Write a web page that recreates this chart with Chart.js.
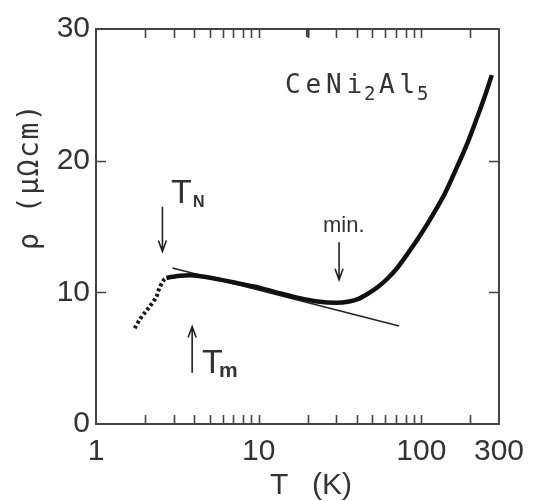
<!DOCTYPE html>
<html>
<head>
<meta charset="utf-8">
<script src="https://cdn.jsdelivr.net/npm/chart.js@4.4.1/dist/chart.umd.min.js"></script>
<style>
  html, body { margin: 0; padding: 0; background: #fff; }
</style>
</head>
<body>
<canvas id="rhoChart" width="534" height="501"></canvas>
<script>
// resistivity of CeNi2Al5 vs temperature (log T)
const lowT   = [1.73, 1.85, 1.99, 2.13, 2.35, 2.45, 2.6, 2.71];
const lowRho = [7.27, 7.9, 8.43, 8.89, 9.66, 10.3, 10.9, 11.1];

const curveT   = [2.71, 2.96, 3.3, 3.74, 4.5, 6.0, 7.5, 9.5, 13, 17.5, 23, 30, 36, 41, 47, 54, 62, 70, 82, 95, 109, 125, 140, 166, 190, 219, 245, 271];
const curveRho = [11.1, 11.18, 11.26, 11.3, 11.2, 10.93, 10.68, 10.43, 9.98, 9.58, 9.3, 9.2, 9.3, 9.5, 9.9, 10.4, 11.05, 11.75, 12.9, 14.05, 15.2, 16.45, 17.55, 19.55, 21.2, 23.2, 24.85, 26.5];

// -log T fit line
const fitT   = [2.95, 73];
const fitRho = [11.85, 7.44];

const yTicks     = [0, 10, 20, 30];
const xLabelled  = [1, 10, 100, 300];
const xTickMarks = [2, 3, 4, 5, 6, 7, 8, 9, 10, 20, 30, 40, 50, 60, 70, 80, 90, 100, 200];

const TN = 2.56, Tm = 3.9, Tmin = 31.2;

const pts = (xs, ys) => xs.map((v, i) => ({ x: v, y: ys[i] }));

const sans = '"Liberation Sans", Arial, sans-serif';
const mono = '"DejaVu Sans Mono", "Liberation Mono", monospace';
const ink = '#333';

function arrow(ctx, x, y1, y2) {
  // shaft from y1 to tip at y2
  const d = y2 > y1 ? 1 : -1;
  ctx.beginPath();
  ctx.moveTo(x, y1);
  ctx.lineTo(x, y2);
  ctx.moveTo(x - 4, y2 - d * 11);
  ctx.lineTo(x, y2);
  ctx.lineTo(x + 4, y2 - d * 11);
  ctx.stroke();
}

function spaced(ctx, str, x, y, pitch) {
  for (const ch of str) {
    ctx.fillText(ch, x, y);
    x += pitch;
  }
  return x;
}

const decor = {
  id: 'decor',
  afterDraw(chart) {
    const { ctx, chartArea: a, scales: { x, y } } = chart;
    ctx.save();

    // frame
    ctx.strokeStyle = '#444';
    ctx.lineWidth = 2;
    ctx.strokeRect(a.left, a.top, a.right - a.left, a.bottom - a.top);

    // inward ticks
    ctx.lineWidth = 1.6;
    ctx.beginPath();
    xTickMarks.forEach(v => {
      const px = Math.round(x.getPixelForValue(v)) + 0.5;
      ctx.moveTo(px, a.bottom); ctx.lineTo(px, a.bottom - 9);
      ctx.moveTo(px, a.top);    ctx.lineTo(px, a.top + 9);
    });
    yTicks.slice(1, -1).forEach(v => {
      const py = Math.round(y.getPixelForValue(v)) + 0.5;
      ctx.moveTo(a.left, py);  ctx.lineTo(a.left + 10, py);
      ctx.moveTo(a.right, py); ctx.lineTo(a.right - 10, py);
    });
    ctx.stroke();
    ctx.lineWidth = 3.5;
    ctx.beginPath();
    const p20 = x.getPixelForValue(20);
    ctx.moveTo(p20, a.top); ctx.lineTo(p20, a.top + 8);
    ctx.stroke();

    // axis titles
    ctx.fillStyle = ink;
    ctx.font = '30px ' + sans;
    ctx.textBaseline = 'alphabetic';
    ctx.textAlign = 'left';
    ctx.fillText('T', 270, 494);
    ctx.fillText('(K)', 312, 494);

    ctx.save();
    ctx.translate(38, 250);
    ctx.rotate(-Math.PI / 2);
    ctx.font = '28px ' + mono;
    spaced(ctx, 'ρ (μΩcm)', 0, 0, 18.4);
    ctx.restore();

    // compound name
    ctx.font = '26px ' + mono;
    let cx = 285;
    cx = spaced(ctx, 'CeNi', cx, 93, 20.5);
    ctx.font = '19px ' + mono;
    cx = spaced(ctx, '2', cx - 3, 100, 15);
    ctx.font = '26px ' + mono;
    cx = spaced(ctx, 'Al', cx, 93, 20.5);
    ctx.font = '19px ' + mono;
    spaced(ctx, '5', cx - 3, 100, 15);

    // arrows
    ctx.strokeStyle = '#222';
    ctx.lineWidth = 1.6;
    arrow(ctx, x.getPixelForValue(TN), y.getPixelForValue(16.5), y.getPixelForValue(13.1));
    arrow(ctx, x.getPixelForValue(Tmin), y.getPixelForValue(13.8), y.getPixelForValue(10.95));
    arrow(ctx, x.getPixelForValue(Tm), y.getPixelForValue(3.9), y.getPixelForValue(7.4));

    // arrow labels
    ctx.fillStyle = ink;
    ctx.font = '34px ' + sans;
    ctx.fillText('T', 171, 203);
    ctx.fillText('T', 202, 373);
    ctx.font = 'bold 16px ' + sans;
    ctx.fillText('N', 193, 207);
    ctx.font = 'bold 21px ' + sans;
    ctx.fillText('m', 219, 377);
    ctx.font = '22px ' + sans;
    ctx.fillText('min.', 323, 232);

    ctx.restore();
  }
};

new Chart(document.getElementById('rhoChart'), {
  type: 'line',
  data: {
    datasets: [
      {
        data: pts(lowT, lowRho),
        borderColor: '#1a1a1a',
        borderWidth: 4,
        borderDash: [3, 2.5],
        pointRadius: 0,
        tension: 0.3
      },
      {
        data: pts(curveT, curveRho),
        borderColor: '#111',
        borderWidth: 4.5,
        pointRadius: 0,
        cubicInterpolationMode: 'monotone'
      },
      {
        data: pts(fitT, fitRho),
        borderColor: '#222',
        borderWidth: 1.5,
        pointRadius: 0
      }
    ]
  },
  options: {
    responsive: false,
    animation: false,
    layout: { padding: { left: 0, top: 29, right: 33, bottom: 0 } },
    plugins: { legend: { display: false }, tooltip: { enabled: false } },
    scales: {
      x: {
        type: 'logarithmic',
        min: 1,
        max: 300,
        afterBuildTicks: s => { s.ticks = [1, ...xTickMarks, 300].map(v => ({ value: v })); },
        afterFit: s => { s.height = 77; },
        grid: { display: false, drawTicks: false },
        border: { display: false },
        ticks: {
          autoSkip: false,
          maxRotation: 0,
          padding: 10,
          color: ink,
          font: { family: sans, size: 30 },
          callback: v => xLabelled.includes(v) ? String(v) : ''
        }
      },
      y: {
        min: 0,
        max: 30,
        afterBuildTicks: s => { s.ticks = yTicks.map(v => ({ value: v })); },
        afterFit: s => { s.width = 96; },
        grid: { display: false, drawTicks: false },
        border: { display: false },
        ticks: {
          padding: 6,
          color: ink,
          font: { family: sans, size: 30 }
        }
      }
    }
  },
  plugins: [decor]
});
</script>
</body>
</html>
